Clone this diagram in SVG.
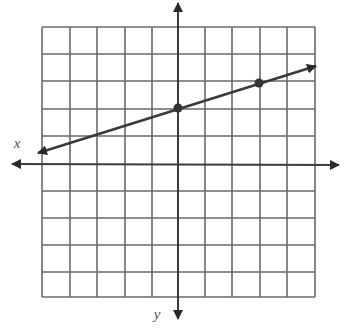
<svg xmlns="http://www.w3.org/2000/svg" width="346" height="329" viewBox="0 0 346 329">
<style>
.grid{stroke:#6a6a6a;stroke-width:1.6;fill:none}
.axis{stroke:#3a3a3a;stroke-width:2;fill:none}
.line{stroke:#3a3a3a;stroke-width:2.6;fill:none}
.lbl{font-family:"Liberation Serif",serif;font-style:italic;font-size:15px;fill:#555}
</style>
<defs>
<marker id="ah" viewBox="0 0 10 10" refX="9" refY="5" markerWidth="10" markerHeight="10" markerUnits="userSpaceOnUse" orient="auto-start-reverse">
<path d="M0,0 L10,5 L0,10 z" fill="#2a2a2a"/>
</marker>
</defs>
<rect width="346" height="329" fill="#ffffff"/>
<g id="grid">
<path class="grid" d="M42,27V297M70,27V297M97,27V297M125,27V297M152,27V297M205,27V297M232,27V297M260,27V297M287,27V297M315,27V297"/>
<path class="grid" d="M42,27H315M42,54H315M42,81H315M42,109H315M42,136H315M42,191H315M42,218H315M42,245H315M42,272H315M42,297H315"/>
</g>
<g id="axes">
<line class="axis" x1="12" y1="164" x2="339" y2="165" marker-start="url(#ah)" marker-end="url(#ah)"/>
<line class="axis" x1="178" y1="3" x2="178" y2="319" marker-start="url(#ah)" marker-end="url(#ah)"/>
</g>
<g id="graph-line">
<line class="line" x1="38" y1="153" x2="316" y2="66" marker-start="url(#ah)" marker-end="url(#ah)"/>
<circle cx="178" cy="108" r="4.5" fill="#333"/>
<circle cx="259" cy="83" r="4.5" fill="#333"/>
</g>
<text class="lbl" x="17" y="148" text-anchor="middle">x</text>
<text class="lbl" x="157" y="319" text-anchor="middle">y</text>
</svg>
